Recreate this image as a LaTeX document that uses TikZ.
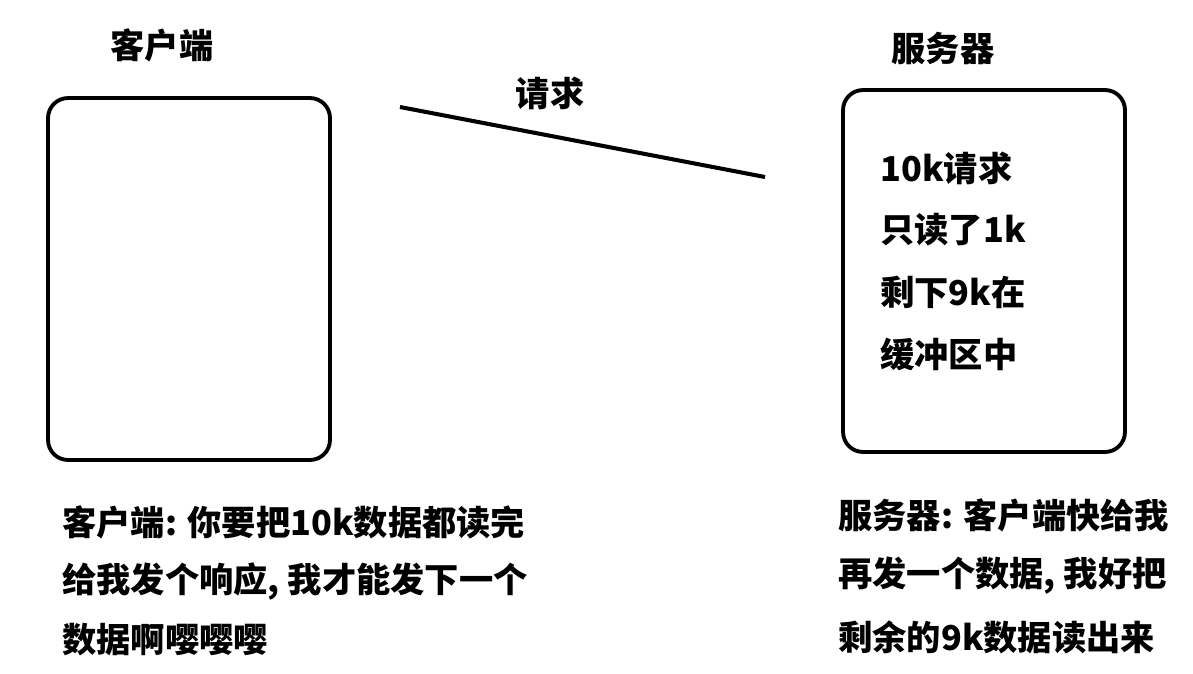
\documentclass[tikz,border=0pt]{standalone}
\usepackage{fontspec}
\newfontfamily\cjk{Noto Sans CJK SC}
\tikzset{
    box/.style={draw, line width=2.2pt, rounded corners=0.4cm, minimum width=5.64cm, minimum height=7.24cm},
    txt/.style={font=\cjk\bfseries\fontsize{19.5}{23}\selectfont, inner sep=0pt, anchor=west}
}
\begin{document}
\begin{tikzpicture}[x=0.02cm, y=-0.02cm]
\useasboundingbox (0,0) rectangle (1193,673);
\node[box] (client) at (189,279) {};
\node[box] (server) at (984,271) {};
\node[txt, anchor=center] (clientlabel) at (162,45) {客户端};
\node[txt, anchor=center] (serverlabel) at (943,48) {服务器};
\coordinate (reqstart) at (400,107);
\coordinate (reqend) at (765,177);
\draw[line width=2.3pt] (reqstart) -- (reqend);
\node[txt, anchor=center] (reqlabel) at (550,93) {请求};
\foreach \t [count=\i] in {10k请求, 只读了1k, 剩下9k在, 缓冲区中} {
    \node[txt] (buf\i) at (880,106+62*\i) {\t};
}
\foreach \t [count=\i] in {{客户端: 你要把10k数据都读完}, {给我发个响应, 我才能发下一个}, {数据啊嘤嘤嘤}} {
    \node[txt] (cnote\i) at (62,463+59*\i) {\t};
}
\foreach \t [count=\i] in {{服务器: 客户端快给我}, {再发一个数据, 我好把}, {剩余的9k数据读出来}} {
    \node[txt] (snote\i) at (838,454+61*\i) {\t};
}
\end{tikzpicture}
\end{document}
